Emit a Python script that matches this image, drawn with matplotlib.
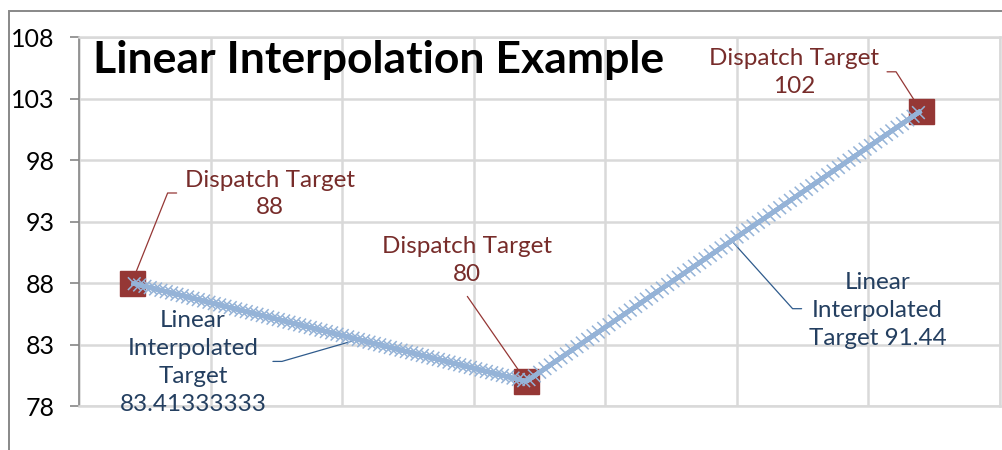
import numpy as np
import matplotlib.pyplot as plt
import matplotlib.patheffects as pe
from matplotlib.patches import Rectangle

# --- Data
dispatch_idx = [10, 85, 160]
dispatch_targets = [88, 80, 102]
dispatch_labels = ['Dispatch Target\n88', 'Dispatch Target\n80', 'Dispatch Target\n102']

interp_label_idx = [53, 124]
interp_label_vals = [83.41333333, 91.44]
interp_labels = ['Linear\nInterpolated\nTarget\n83.41333333', 'Linear\nInterpolated\nTarget 91.44']

y_ticks = [78, 83, 88, 93, 98, 103, 108]
x_grid = [0, 25, 50, 75, 100, 125, 150, 175]

# --- Styles
FONT = 'Lato'
RED_FILL = '#953735'
RED_TEXT = '#772c2a'
BLUE_LINE = '#95b3d7'
BLUE_TEXT = '#243f60'
BLUE_LEAD = '#2f5b8c'
GRID = '#d9d9d9'
DPI = 100

plt.rcParams['font.family'] = [FONT, 'DejaVu Sans']

fig = plt.figure(figsize=(10.03, 4.5), dpi=DPI)
ax = fig.add_axes([79 / 1003, 1 - 406 / 450, 921 / 1003, 369 / 450])

ax.set_xlim(x_grid[0], x_grid[-1])
ax.set_ylim(y_ticks[0], y_ticks[-1])
ax.set_xticks(x_grid)
ax.set_yticks(y_ticks)
ax.grid(True, color=GRID, linewidth=1.8)
ax.set_axisbelow(True)
ax.tick_params(axis='x', length=0, labelbottom=False)
ax.tick_params(axis='y', length=6.5, width=1.2, color='#868686', pad=11, labelsize=18)
for name in ['top', 'right', 'bottom']:
    ax.spines[name].set_color(GRID)
    ax.spines[name].set_linewidth(1.8)
ax.spines['left'].set_color('#868686')
ax.spines['left'].set_linewidth(1.2)


# --- Leader lines (drawn under the markers)
def leader(xy, stub_end, arm, angle, color):
    ax.annotate('', xy=xy, xytext=stub_end, textcoords='offset pixels',
                arrowprops=dict(arrowstyle='-', color=color, lw=0.9,
                                shrinkA=0, shrinkB=0,
                                connectionstyle=f'arc,angleA={angle},armA={arm},angleB=0,armB=0,rad=0'),
                zorder=1)


pts = list(zip(dispatch_idx, dispatch_targets))
leader(pts[0], (45, 90), 9, 180, RED_FILL)
leader(pts[1], (-59, 85), 0, 0, RED_FILL)
leader(pts[2], (-34, 39), 9, 0, RED_FILL)

ipts = list(zip(interp_label_idx, interp_label_vals))
leader(ipts[0], (-85, -22), 9, 0, BLUE_LEAD)
leader(ipts[1], (70, -68), 9, 180, BLUE_LEAD)

# --- Dispatch targets (squares)
ax.plot(dispatch_idx, dispatch_targets, linestyle='None', marker='s', markersize=18,
        color=RED_FILL, zorder=2, clip_on=False)

# --- Interpolated line: one 'x' per step, drawn as ticks along each segment
step_px = ax.transData.transform((1, 0))[0] - ax.transData.transform((0, 0))[0]
half_x = 9.0  # half length of one x-marker stroke, pixels
for i in range(len(pts) - 1):
    p0 = ax.transData.transform(pts[i])
    p1 = ax.transData.transform(pts[i + 1])
    theta = np.degrees(np.arctan2(p1[1] - p0[1], p1[0] - p0[0]))
    spacing_px = step_px / np.cos(np.radians(theta))
    spacing_pt = spacing_px * 72 / DPI
    effects = [pe.Normal()]
    for d in [45, 135, 225, 315]:
        effects.append(pe.withTickedStroke(spacing=spacing_pt, angle=d - theta,
                                           length=half_x / spacing_px,
                                           linewidth=1.1, foreground=BLUE_LINE))
    ax.plot([pts[i][0], pts[i + 1][0]], [pts[i][1], pts[i + 1][1]], color=BLUE_LINE,
            linewidth=3.2, solid_capstyle='butt', zorder=3, clip_on=False,
            path_effects=effects)

# --- Labels
offsets = [(138, 89), (-59, 121), (-127, 38)]
for (x, y), txt, off in zip(pts, dispatch_labels, offsets):
    ax.annotate(txt, xy=(x, y), xytext=off, textcoords='offset pixels',
                ha='center', va='center', color=RED_TEXT, fontsize=17.5,
                linespacing=1.4, zorder=4)

ioffsets = [(-165, -23), (146, -70)]
for (x, y), txt, off in zip(ipts, interp_labels, ioffsets):
    ax.annotate(txt, xy=(x, y), xytext=off, textcoords='offset pixels',
                ha='center', va='center', color=BLUE_TEXT, fontsize=17.5,
                linespacing=1.4, zorder=4, annotation_clip=False)

fig.text(93 / 1003, 1 - 60 / 450, 'Linear Interpolation Example', ha='left', va='center',
         fontsize=32, fontweight='bold', color='black')

# --- Outer chart frame
fig.add_artist(Rectangle((9 / 1003, -0.1), 1.2, 1 - 11 / 450 + 0.1, transform=fig.transFigure,
                         fill=False, edgecolor='#888888', linewidth=1.4))

fig.savefig('out.png', dpi=DPI)
